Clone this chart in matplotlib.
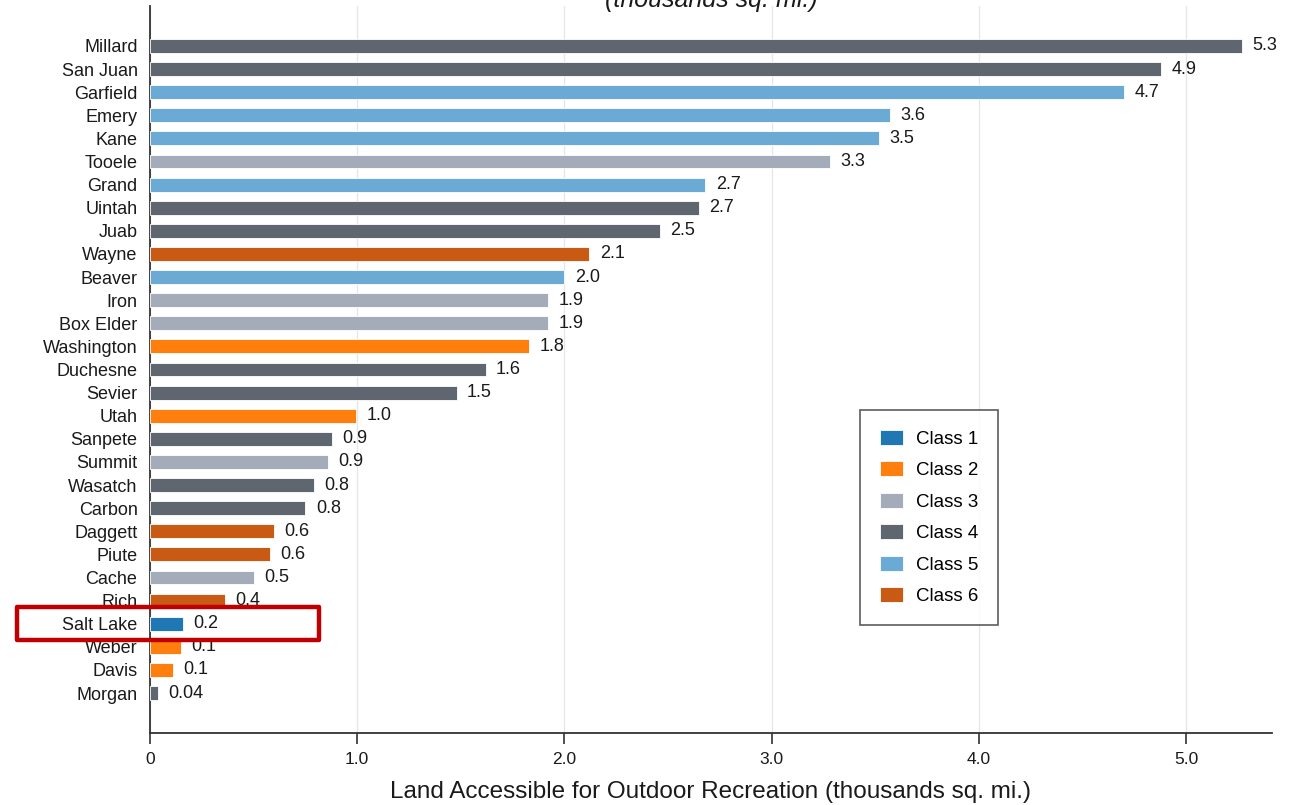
import matplotlib
matplotlib.use('Agg')
import matplotlib.pyplot as plt
import matplotlib.patches as patches
from matplotlib.patches import Patch

# counties, top to bottom
counties = ['Millard', 'San Juan', 'Garfield', 'Emery', 'Kane', 'Tooele', 'Grand',
            'Uintah', 'Juab', 'Wayne', 'Beaver', 'Iron', 'Box Elder', 'Washington',
            'Duchesne', 'Sevier', 'Utah', 'Sanpete', 'Summit', 'Wasatch', 'Carbon',
            'Daggett', 'Piute', 'Cache', 'Rich', 'Salt Lake', 'Weber', 'Davis', 'Morgan']
land = [5.27, 4.88, 4.70, 3.57, 3.52, 3.28, 2.68, 2.65, 2.46, 2.12, 2.00, 1.92, 1.92,
        1.83, 1.62, 1.48, 0.995, 0.88, 0.86, 0.79, 0.75, 0.60, 0.58, 0.50, 0.36,
        0.16, 0.15, 0.11, 0.04]
labels = ['5.3', '4.9', '4.7', '3.6', '3.5', '3.3', '2.7', '2.7', '2.5', '2.1', '2.0',
          '1.9', '1.9', '1.8', '1.6', '1.5', '1.0', '0.9', '0.9', '0.8', '0.8', '0.6',
          '0.6', '0.5', '0.4', '0.2', '0.1', '0.1', '0.04']
county_class = [4, 4, 5, 5, 5, 3, 5, 4, 4, 6, 5, 3, 3, 2, 4, 4, 2, 4, 3, 4, 4, 6, 6,
                3, 6, 1, 2, 2, 4]

class_names = ['Class 1', 'Class 2', 'Class 3', 'Class 4', 'Class 5', 'Class 6']
class_colors = ['#1f77b4', '#ff7f0e', '#a5acb9', '#5f6670', '#6aaad5', '#c95a14']

highlight = 'Salt Lake'

plt.rcParams['font.family'] = ['Liberation Sans', 'DejaVu Sans']

fig = plt.figure(figsize=(12.93, 8.05), dpi=100)
ax = fig.add_axes([150/1293, 1 - 733/805, (1272 - 150)/1293, (733 - 6)/805])

y = list(range(len(counties)))
cols = [class_colors[c - 1] for c in county_class]
ax.barh(y, land, height=0.6, color=cols, edgecolor='white', linewidth=0.6, zorder=3)

for yi, v, t in zip(y, land, labels):
    ax.text(v + 0.05, yi, t, va='center', ha='left', fontsize=13, color='#1a1a1a', zorder=4)

ax.set_ylim(len(counties) - 1 + 1.73, -1.73)
ax.set_xlim(0, 5.415)
ax.set_yticks(y)
ax.set_yticklabels(counties, fontsize=13, color='#1a1a1a')
ax.set_xticks([0, 1, 2, 3, 4, 5])
ax.set_xticklabels(['0', '1.0', '2.0', '3.0', '4.0', '5.0'], fontsize=12.5, color='#1a1a1a')
ax.tick_params(axis='y', length=0, pad=9)
ax.tick_params(axis='x', length=8, width=1.2, color='#333333', pad=6)
ax.grid(axis='x', color='#e6e6e6', linewidth=0.9, zorder=0)
ax.set_axisbelow(True)
for s in ['top', 'right']:
    ax.spines[s].set_visible(False)
for s in ['left', 'bottom']:
    ax.spines[s].set_color('#333333')
    ax.spines[s].set_linewidth(1.3)

ax.set_xlabel('Land Accessible for Outdoor Recreation (thousands sq. mi.)',
              fontsize=17.5, color='#1a1a1a', labelpad=10)

# title is cut off at the top of the picture
fig.text(711/1293, 1 - 7/805, '(thousands sq. mi.)', ha='center', va='baseline',
         fontsize=18, style='italic', color='#1a1a1a')

handles = [Patch(facecolor=c, edgecolor='white', linewidth=0.6) for c in class_colors]
leg = ax.legend(handles, class_names, loc='upper left',
                bbox_to_anchor=(860/1293, 1 - 410/805), bbox_transform=fig.transFigure,
                fontsize=13.5, frameon=True, fancybox=False, handlelength=1.25,
                handleheight=0.85, labelspacing=0.72, borderpad=1.05, handletextpad=0.7,
                borderaxespad=0)
leg.get_frame().set_edgecolor('#333333')
leg.get_frame().set_linewidth(1.2)

# red box round the highlighted county
hi = counties.index(highlight)
x0 = (17 - 150) / 207.2
x1 = (319 - 150) / 207.2
rect = patches.Rectangle((x0, hi - 0.71), x1 - x0, 1.42, fill=False, edgecolor='#c00000',
                         linewidth=3.2, joinstyle='round', clip_on=False, zorder=5)
ax.add_patch(rect)

fig.savefig('out.png', dpi=100)
